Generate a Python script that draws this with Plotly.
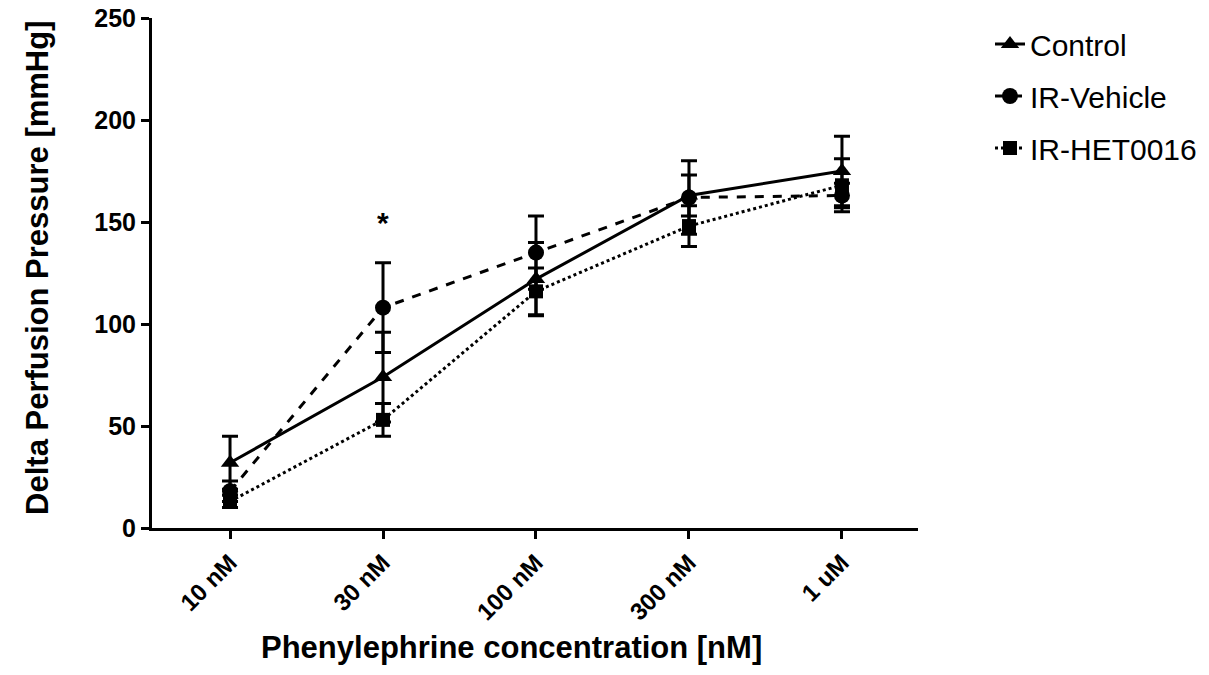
import plotly.graph_objects as go

categories = ["10 nM", "30 nM", "100 nM", "300 nM", "1 uM"]
control = [32, 74, 122, 163, 175]
control_err = [13, 22, 18, 10, 17]
vehicle = [18, 108, 135, 162, 163]
vehicle_err = [5, 22, 18, 18, 6]
het = [13, 53, 116, 148, 168]
het_err = [3, 8, 11.5, 10, 13]

x_idx = list(range(len(categories)))
FONT = "Arial, Liberation Sans, sans-serif"

fig = go.Figure()
series = [
    ("Control", control, control_err, "solid", "triangle-up", 16),
    ("IR-Vehicle", vehicle, vehicle_err, "dash", "circle", 16),
    ("IR-HET0016", het, het_err, "dot", "square", 14),
]
for name, vals, err, dash, sym, sz in series:
    fig.add_trace(go.Scatter(
        x=x_idx, y=vals, name=name, mode="lines+markers",
        line=dict(color="black", width=3, dash=dash),
        marker=dict(symbol=sym, size=sz, color="black"),
        error_y=dict(type="data", array=err, visible=True, color="black", thickness=3, width=8),
        legendgroup=name,
    ))

fig.add_annotation(x=1, y=150, text="<b>*</b>", showarrow=False,
                   font=dict(family=FONT, size=30, color="black"))
fig.add_annotation(xref="paper", yref="paper", x=0.4687, y=-0.235,
                   xanchor="center", yanchor="middle", showarrow=False,
                   text="<b>Phenylephrine concentration [nM]</b>",
                   font=dict(family=FONT, size=31, color="black"))
fig.add_annotation(xref="paper", yref="paper", x=-0.1488, y=0.51,
                   xanchor="center", yanchor="middle", showarrow=False, textangle=-90,
                   text="<b>Delta Perfusion Pressure [mmHg]</b>",
                   font=dict(family=FONT, size=31, color="black"))

fig.update_layout(
    width=1209, height=675,
    margin=dict(l=152, r=291, t=18, b=147, autoexpand=False),
    plot_bgcolor="white", paper_bgcolor="white",
    font=dict(family=FONT, color="black"),
    showlegend=True,
    legend=dict(x=1.094, y=1.0, xanchor="left", yanchor="top",
                font=dict(family=FONT, size=30, color="black"),
                traceorder="grouped", tracegroupgap=10,
                bgcolor="rgba(0,0,0,0)"),
    xaxis=dict(
        tickmode="array", tickvals=x_idx, ticktext=categories,
        range=[-0.51, 4.497], showline=True, linecolor="black", linewidth=3,
        ticks="outside", ticklen=8, tickwidth=3, tickcolor="black",
        tickangle=-45, showgrid=False, zeroline=False, automargin=False,
        tickfont=dict(family=FONT, size=24, color="black", weight="bold"),
    ),
    yaxis=dict(
        range=[0, 250], tickvals=[0, 50, 100, 150, 200, 250],
        showline=True, linecolor="black", linewidth=3,
        ticks="outside", ticklen=8, tickwidth=3, tickcolor="black",
        showgrid=False, zeroline=False, ticklabeloverflow="allow", automargin=False,
        tickfont=dict(family=FONT, size=25, color="black", weight="bold"),
    ),
)

fig.write_html("out.html", config={"displayModeBar": False},
               post_script="document.body.style.margin='0px';")
